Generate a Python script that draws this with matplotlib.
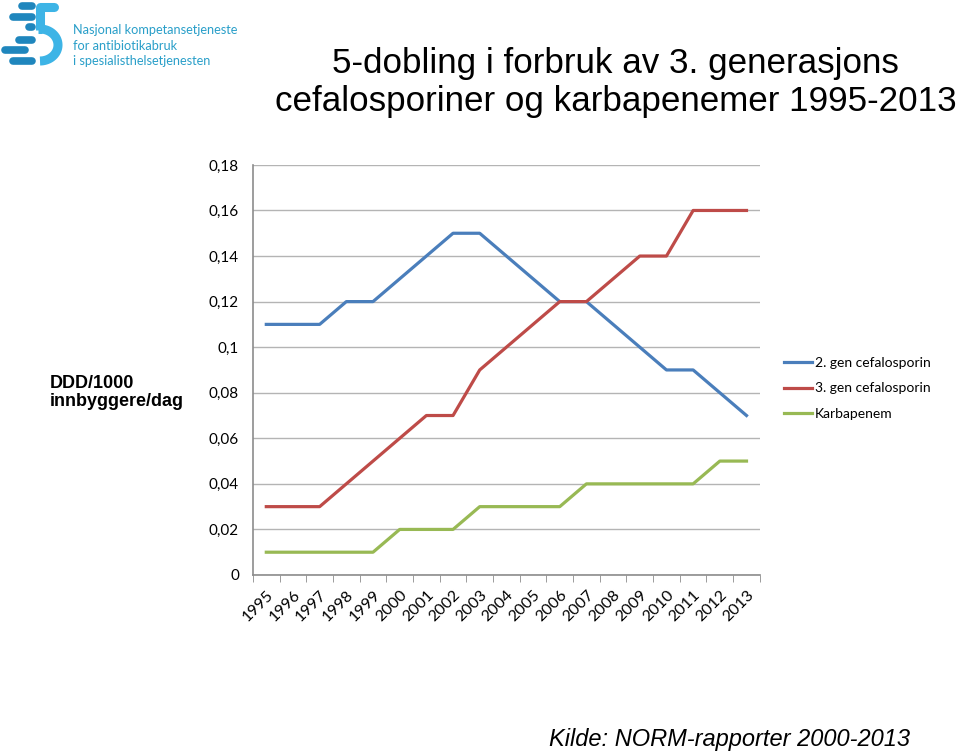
import matplotlib.pyplot as plt
from matplotlib.ticker import FuncFormatter, FixedLocator
from matplotlib.transforms import Affine2D
import numpy as np

aar = [str(a) for a in range(1995, 2014)]
gen2 = [0.11, 0.11, 0.11, 0.12, 0.12, 0.13, 0.14, 0.15, 0.15, 0.14,
        0.13, 0.12, 0.12, 0.11, 0.10, 0.09, 0.09, 0.08, 0.07]
gen3 = [0.03, 0.03, 0.03, 0.04, 0.05, 0.06, 0.07, 0.07, 0.09, 0.10,
        0.11, 0.12, 0.12, 0.13, 0.14, 0.14, 0.16, 0.16, 0.16]
karba = [0.01, 0.01, 0.01, 0.01, 0.01, 0.02, 0.02, 0.02, 0.03, 0.03,
         0.03, 0.03, 0.04, 0.04, 0.04, 0.04, 0.04, 0.05, 0.05]
navn = ['2. gen cefalosporin', '3. gen cefalosporin', 'Karbapenem']
farger = ['#4A7EBB', '#BE4B48', '#98B954']

fig = plt.figure(figsize=(9.6, 7.53), dpi=100)
ax = fig.add_axes([0.2635, 0.2364, 0.528, 0.5446])

x = np.arange(len(aar))
for y, n, c in zip([gen2, gen3, karba], navn, farger):
    ax.plot(x, y, color=c, lw=2.3, label=n)

# akser i Excel-stil
ax.set_xlim(-0.5, len(aar) - 0.5)
ax.set_ylim(0, 0.18)
ax.set_yticks(np.arange(0, 0.181, 0.02))
ax.yaxis.set_major_formatter(FuncFormatter(
    lambda v, p: ('%.2f' % v).rstrip('0').rstrip('.').replace('.', ',')))
ax.grid(axis='y', color='#b4b4b4', lw=1)
ax.set_axisbelow(True)
for s in ['top', 'right']:
    ax.spines[s].set_visible(False)
for s in ['left', 'bottom']:
    ax.spines[s].set_color('#8c8c8c')
    ax.spines[s].set_linewidth(1.2)

tekst = ['Lato', 'DejaVu Sans']
ax.set_xticks(x)
ax.set_xticklabels(aar, rotation=45, ha='right', rotation_mode='anchor',
                   family=tekst, fontsize=11.5)
ax.xaxis.set_minor_locator(FixedLocator(np.arange(-0.5, len(aar), 1)))
ax.tick_params(axis='x', which='major', length=0, pad=9)
ax.tick_params(axis='x', which='minor', length=5, color='#8c8c8c')
ax.tick_params(axis='y', length=0, pad=10, labelsize=11)
for t in ax.get_yticklabels():
    t.set_family(tekst)

fig.legend(loc='upper left', bbox_to_anchor=(0.811, 0.533), frameon=False,
           prop={'family': tekst, 'size': 10}, handlelength=2.0,
           handletextpad=0.2, labelspacing=0.95, borderaxespad=0)

fig.text(0.052, 0.479, 'DDD/1000\ninnbyggere/dag', ha='left', va='center',
         fontsize=13, fontweight='bold', family='Liberation Sans',
         linespacing=1.1)

fig.text(0.641, 1 - 73 / 753, '5-dobling i forbruk av 3. generasjons',
         ha='center', va='baseline', fontsize=25.2, family='Liberation Sans')
fig.text(0.641, 1 - 111 / 753, 'cefalosporiner og karbapenemer 1995-2013',
         ha='center', va='baseline', fontsize=25.2, family='Liberation Sans')

fig.text(0.948, 1 - 746 / 753, 'Kilde: NORM-rapporter 2000-2013', ha='right',
         va='baseline', fontsize=17, style='italic', family='Liberation Sans')

# logo (forenklet), tegnet i pikselkoordinater
px = Affine2D().scale(1 / 960, -1 / 753).translate(0, 1) + fig.transFigure
lys = '#3db4e6'
mork = '#1f86bd'
biter = [(15, 15, 6, lys), (22, 32, 6, mork), (13, 32, 17, mork),
         (12, 12, 27, lys), (22, 22, 27, lys), (29, 32, 27, mork),
         (10, 10, 40, lys), (19, 32, 40, mork), (5, 25, 50, mork),
         (33, 33, 50, lys), (13, 32, 61, mork)]
for x0, x1, yy, c in biter:
    fig.add_artist(plt.Line2D([x0, x1], [yy, yy], color=c, lw=5.5,
                              solid_capstyle='round', transform=px))
th = np.linspace(-np.pi / 2, np.pi / 2, 40)
fig.add_artist(plt.Line2D(40 + 18 * np.cos(th), 45 + 16 * np.sin(th),
                          color=lys, lw=6.5, solid_capstyle='butt', transform=px))
fig.add_artist(plt.Line2D([40, 54], [7.5, 7.5], color=lys, lw=6.5,
                          solid_capstyle='round', transform=px))
fig.add_artist(plt.Line2D([40, 40], [7.5, 30], color=lys, lw=6.5,
                          solid_capstyle='butt', transform=px))
fig.add_artist(plt.Line2D([38, 42], [29, 29], color=lys, lw=6.5,
                          solid_capstyle='butt', transform=px))
for i, linje in enumerate(['Nasjonal kompetansetjeneste', 'for antibiotikabruk',
                           'i spesialisthelsetjenesten']):
    fig.text(73 / 960, 1 - (34 + 15.5 * i) / 753, linje, ha='left',
             va='baseline', fontsize=9.2, color='#2a9fc9', family=tekst)

fig.savefig('out.png', dpi=100)
